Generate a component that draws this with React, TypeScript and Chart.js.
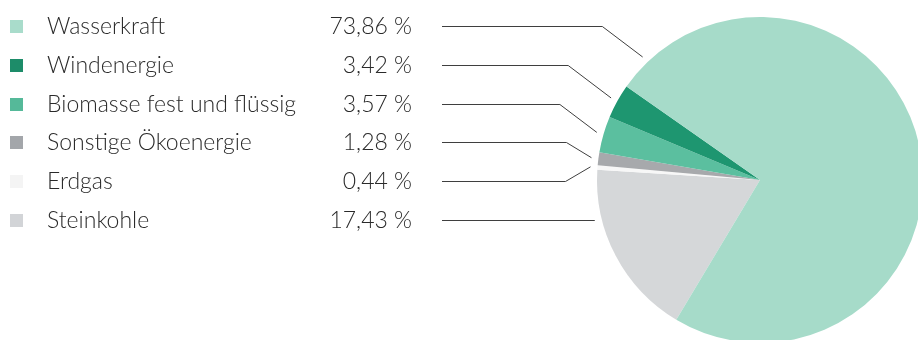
import React, { useEffect, useRef } from "react";
import { Chart, registerables } from "chart.js";

Chart.register(...registerables);

const categories = [
  "Wasserkraft",
  "Windenergie",
  "Biomasse fest und flüssig",
  "Sonstige Ökoenergie",
  "Erdgas",
  "Steinkohle",
];
const shares = [73.86, 3.42, 3.57, 1.28, 0.44, 17.43];
const sliceColors = ["#a6dbc9", "#1e9670", "#5bbf9f", "#a7a9ac", "#f7f7f7", "#d5d7d9"];
const legendColors = ["#a9dccb", "#1d8c69", "#55b999", "#a3a6aa", "#f4f4f4", "#d2d4d7"];
const leaderDrop = [31, 0, 0, 0, 0, 0];

const fmt = (v: number) => v.toFixed(2).replace(".", ",") + " %";

const legendPlugin = {
  id: "sideLegend",
  afterDraw(chart: any) {
    const ctx = chart.ctx;
    const meta = chart.getDatasetMeta(0);
    const n = categories.length;
    ctx.save();
    for (let i = 0; i < n; i++) {
      const j = n - 1 - i;
      const arc = meta.data[j];
      const p = arc.getProps(["x", "y", "startAngle", "endAngle", "outerRadius"], true);
      const rowY = Math.round(26 + i * 38.8);
      // square
      ctx.fillStyle = legendColors[i];
      ctx.fillRect(10, rowY - 6, 13, 13);
      // texts
      ctx.fillStyle = "#2a2a2a";
      ctx.font = "300 23px Lato";
      ctx.textBaseline = "alphabetic";
      ctx.textAlign = "left";
      ctx.fillText(categories[i], 47, rowY + 8);
      ctx.textAlign = "right";
      ctx.fillText(fmt(shares[i]), 412, rowY + 8);
      // leader
      const R = p.outerRadius + 7;
      let ax: number, ay: number;
      const sweep = p.endAngle - p.startAngle;
      if (sweep < 0.6) {
        const a = (p.startAngle + p.endAngle) / 2;
        ax = p.x + R * Math.cos(a);
        ay = p.y + R * Math.sin(a);
      } else {
        ay = rowY + leaderDrop[i];
        ax = p.x - Math.sqrt(Math.max(R * R - (ay - p.y) * (ay - p.y), 0));
      }
      const dy = Math.abs(ay - rowY);
      ctx.strokeStyle = "#3f3f3f";
      ctx.lineWidth = 1;
      ctx.beginPath();
      ctx.moveTo(442, rowY + 0.5);
      if (dy < 1) {
        ctx.lineTo(ax, rowY + 0.5);
      } else {
        const bendX = ax - Math.max(25, 1.3 * dy);
        ctx.lineTo(bendX, rowY + 0.5);
        ctx.lineTo(ax, ay);
      }
      ctx.stroke();
    }
    ctx.restore();
  },
};

export default function App() {
  const ref = useRef<HTMLCanvasElement>(null);
  useEffect(() => {
    document.body.style.margin = "0";
    const order = categories.map((_, i) => categories.length - 1 - i);
    const chart = new Chart(ref.current!, {
      type: "pie",
      data: {
        labels: order.map((i) => categories[i]),
        datasets: [
          {
            data: order.map((i) => shares[i]),
            backgroundColor: order.map((i) => sliceColors[i]),
            borderWidth: 0,
            hoverOffset: 0,
          },
        ],
      },
      options: {
        responsive: false,
        animation: false,
        devicePixelRatio: 1,
        rotation: 210.9,
        layout: { padding: { left: 597, top: 17, right: 7, bottom: 7 } },
        plugins: { legend: { display: false }, tooltip: { enabled: false } },
        events: [],
      },
      plugins: [legendPlugin],
    });
    return () => chart.destroy();
  }, []);
  return (
    <div
      style={{
        position: "fixed",
        left: 0,
        top: 0,
        width: 918,
        height: 340,
        overflow: "hidden",
        background: "#ffffff",
      }}
    >
      <canvas ref={ref} width={930} height={350} style={{ display: "block" }} />
    </div>
  );
}
